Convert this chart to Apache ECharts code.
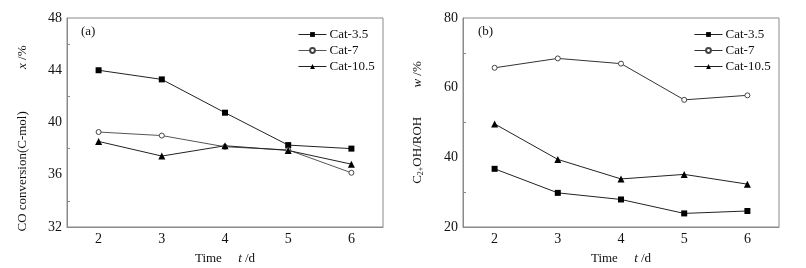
<!DOCTYPE html>
<html>
<head>
<meta charset="utf-8">
<script src="https://cdn.jsdelivr.net/npm/echarts@6/dist/echarts.min.js"></script>
<style>
  html, body { margin: 0; padding: 0; background: #fff; }
  #main { width: 806px; height: 268px; }
</style>
</head>
<body>
<div id="main"></div>
<script>
var days = ['2', '3', '4', '5', '6'];
// (a) CO conversion
var convCat35 = [44.0, 43.3, 40.75, 38.27, 38.0];
var convCat7 = [39.27, 39.0, 38.14, 37.9, 36.15];
var convCat105 = [38.55, 37.43, 38.22, 37.86, 36.81];
// (b) C2+OH/ROH
var selCat35 = [36.7, 29.8, 27.9, 23.9, 24.6];
var selCat7 = [65.7, 68.4, 66.9, 56.5, 57.8];
var selCat105 = [49.6, 39.4, 33.8, 35.1, 32.3];

var font = 'Liberation Serif';
var frame = '#8a8a8a';

function xAxis(idx) {
  return {
    type: 'category', gridIndex: idx, data: days, boundaryGap: true,
    name: '{n|Time}{n|     }{i|t}{n| /d}', nameLocation: 'middle', nameGap: 25,
    nameTextStyle: { rich: {
      n: { fontFamily: font, fontSize: 13, color: '#111' },
      i: { fontFamily: font, fontSize: 13, fontStyle: 'italic', color: '#111' }
    } },
    axisLine: { lineStyle: { color: frame } },
    axisTick: { inside: true, alignWithLabel: true, length: 4, lineStyle: { color: frame } },
    axisLabel: { fontFamily: font, fontSize: 14, color: '#111', margin: 5 },
    splitLine: { show: false }
  };
}
function yAxis(idx, min, max, step, name, pad) {
  return {
    type: 'value', gridIndex: idx, min: min, max: max, interval: step,
    name: name, nameLocation: 'middle', nameGap: 38,
    nameTextStyle: { padding: pad, rich: {
      n: { fontFamily: font, fontSize: 13, color: '#111' },
      i: { fontFamily: font, fontSize: 13, fontStyle: 'italic', color: '#111' },
      sub: { fontFamily: font, fontSize: 8, color: '#111', verticalAlign: 'bottom', padding: [7, 0, 0, 0] }
    } },
    axisLine: { show: true, lineStyle: { color: frame } },
    axisTick: { inside: true, length: 4, lineStyle: { color: frame } },
    minorTick: { show: true, splitNumber: 2, length: 3, lineStyle: { color: frame } },
    axisLabel: { fontFamily: font, fontSize: 14, color: '#111', margin: 5 },
    splitLine: { show: false }
  };
}
function line(name, data, idx, symbol, size, color, lineColor) {
  return {
    name: name, type: 'line', xAxisIndex: idx, yAxisIndex: idx, data: data,
    symbol: symbol, symbolSize: size, showSymbol: true,
    lineStyle: { color: lineColor, width: 1 },
    itemStyle: symbol === 'circle'
      ? { color: '#fff', borderColor: color, borderWidth: 1 }
      : { color: color, borderColor: color, borderWidth: 0 }
  };
}
function legend(idx, left) {
  return {
    left: left, top: 23, orient: 'vertical', itemWidth: 28, itemHeight: 6, itemGap: 3,
    lineStyle: { width: 1 },
    textStyle: { fontFamily: font, fontSize: 13, color: '#111', padding: [0, 0, 0, -2] },
    data: idx === 0 ? ['Cat-3.5', 'Cat-7', 'Cat-10.5'] : ['Cat-3.5 ', 'Cat-7 ', 'Cat-10.5 ']
  };
}

var chart = echarts.init(document.getElementById('main'));
chart.setOption({
  animation: false,
  grid: [
    { left: 67, right: 423, top: 18, bottom: 41, show: true, borderColor: frame, borderWidth: 1, outerBoundsMode: 'none' },
    { left: 463, right: 27, top: 18, bottom: 41, show: true, borderColor: frame, borderWidth: 1, outerBoundsMode: 'none' }
  ],
  xAxis: [xAxis(0), xAxis(1)],
  yAxis: [
    yAxis(0, 32, 48, 4, '{n|CO conversion(C-mol)}{n|             }{i|x}{n| /%}', [0, 32, 0, 0]),
    yAxis(1, 20, 80, 20, '{n|C}{sub|2+}{n|OH/ROH}{n|         }{i|w}{n| /%}', [0, 0, 0, 0])
  ],
  legend: [legend(0, 293), legend(1, 689)],
  graphic: [
    { type: 'text', left: 81, top: 25, style: { text: '(a)', font: '13px "Liberation Serif"', fill: '#111' } },
    { type: 'text', left: 478, top: 25, style: { text: '(b)', font: '13px "Liberation Serif"', fill: '#111' } }
  ],
  series: [
    line('Cat-3.5', convCat35, 0, 'rect', 6, '#000', '#222'),
    line('Cat-7', convCat7, 0, 'circle', 5, '#444', '#555'),
    line('Cat-10.5', convCat105, 0, 'triangle', 7, '#000', '#222'),
    line('Cat-3.5 ', selCat35, 1, 'rect', 6, '#000', '#222'),
    line('Cat-7 ', selCat7, 1, 'circle', 5, '#444', '#333'),
    line('Cat-10.5 ', selCat105, 1, 'triangle', 7, '#000', '#222')
  ]
});
</script>
</body>
</html>
